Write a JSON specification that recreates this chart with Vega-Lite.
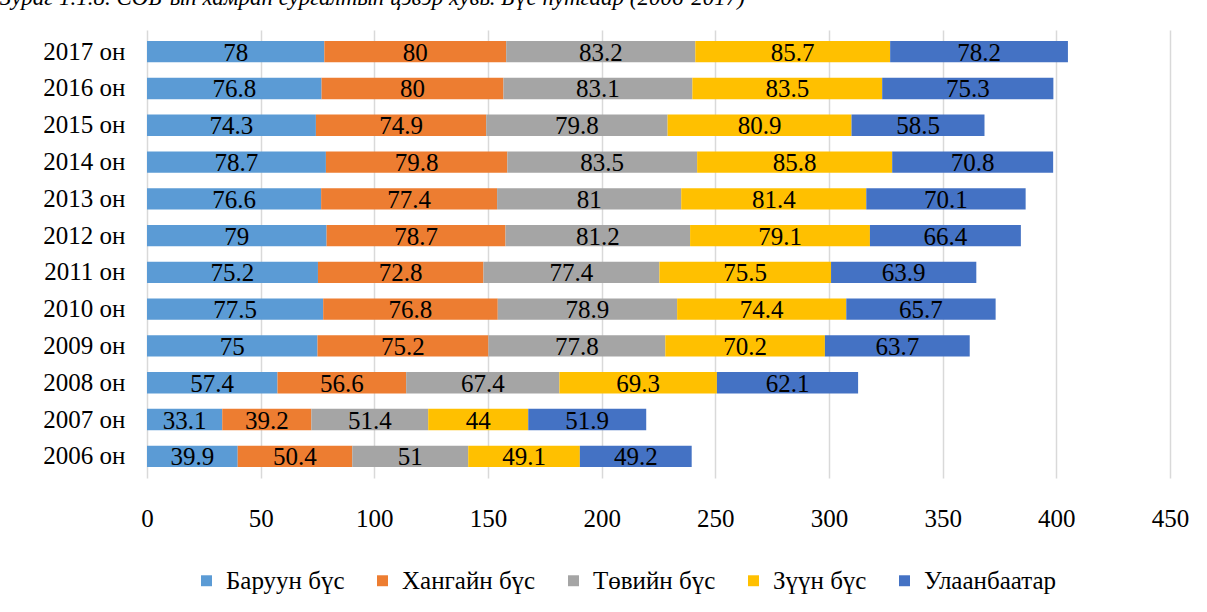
{
  "$schema": "https://vega.github.io/schema/vega-lite/v6.json",
  "width": 1023,
  "height": 448,
  "autosize": {"type": "none"},
  "padding": {"left": 147, "top": 30, "right": 37, "bottom": 134},
  "background": "white",
  "title": {
    "text": "Зураг 1.1.8. СӨБ-ын хамран сургалтын цэвэр хувь. Бүс нутгаар (2006-2017)",
    "anchor": "start",
    "frame": "group",
    "dx": -147,
    "offset": 2,
    "baseline": "alphabetic",
    "font": "Liberation Serif",
    "fontSize": 23,
    "fontStyle": "italic",
    "fontWeight": "normal",
    "color": "#000000"
  },
  "data": {
    "values": [
      {"year": "2017 он", "region": "Баруун бүс", "value": 78},
      {"year": "2017 он", "region": "Хангайн бүс", "value": 80},
      {"year": "2017 он", "region": "Төвийн бүс", "value": 83.2},
      {"year": "2017 он", "region": "Зүүн бүс", "value": 85.7},
      {"year": "2017 он", "region": "Улаанбаатар", "value": 78.2},
      {"year": "2016 он", "region": "Баруун бүс", "value": 76.8},
      {"year": "2016 он", "region": "Хангайн бүс", "value": 80},
      {"year": "2016 он", "region": "Төвийн бүс", "value": 83.1},
      {"year": "2016 он", "region": "Зүүн бүс", "value": 83.5},
      {"year": "2016 он", "region": "Улаанбаатар", "value": 75.3},
      {"year": "2015 он", "region": "Баруун бүс", "value": 74.3},
      {"year": "2015 он", "region": "Хангайн бүс", "value": 74.9},
      {"year": "2015 он", "region": "Төвийн бүс", "value": 79.8},
      {"year": "2015 он", "region": "Зүүн бүс", "value": 80.9},
      {"year": "2015 он", "region": "Улаанбаатар", "value": 58.5},
      {"year": "2014 он", "region": "Баруун бүс", "value": 78.7},
      {"year": "2014 он", "region": "Хангайн бүс", "value": 79.8},
      {"year": "2014 он", "region": "Төвийн бүс", "value": 83.5},
      {"year": "2014 он", "region": "Зүүн бүс", "value": 85.8},
      {"year": "2014 он", "region": "Улаанбаатар", "value": 70.8},
      {"year": "2013 он", "region": "Баруун бүс", "value": 76.6},
      {"year": "2013 он", "region": "Хангайн бүс", "value": 77.4},
      {"year": "2013 он", "region": "Төвийн бүс", "value": 81},
      {"year": "2013 он", "region": "Зүүн бүс", "value": 81.4},
      {"year": "2013 он", "region": "Улаанбаатар", "value": 70.1},
      {"year": "2012 он", "region": "Баруун бүс", "value": 79},
      {"year": "2012 он", "region": "Хангайн бүс", "value": 78.7},
      {"year": "2012 он", "region": "Төвийн бүс", "value": 81.2},
      {"year": "2012 он", "region": "Зүүн бүс", "value": 79.1},
      {"year": "2012 он", "region": "Улаанбаатар", "value": 66.4},
      {"year": "2011 он", "region": "Баруун бүс", "value": 75.2},
      {"year": "2011 он", "region": "Хангайн бүс", "value": 72.8},
      {"year": "2011 он", "region": "Төвийн бүс", "value": 77.4},
      {"year": "2011 он", "region": "Зүүн бүс", "value": 75.5},
      {"year": "2011 он", "region": "Улаанбаатар", "value": 63.9},
      {"year": "2010 он", "region": "Баруун бүс", "value": 77.5},
      {"year": "2010 он", "region": "Хангайн бүс", "value": 76.8},
      {"year": "2010 он", "region": "Төвийн бүс", "value": 78.9},
      {"year": "2010 он", "region": "Зүүн бүс", "value": 74.4},
      {"year": "2010 он", "region": "Улаанбаатар", "value": 65.7},
      {"year": "2009 он", "region": "Баруун бүс", "value": 75},
      {"year": "2009 он", "region": "Хангайн бүс", "value": 75.2},
      {"year": "2009 он", "region": "Төвийн бүс", "value": 77.8},
      {"year": "2009 он", "region": "Зүүн бүс", "value": 70.2},
      {"year": "2009 он", "region": "Улаанбаатар", "value": 63.7},
      {"year": "2008 он", "region": "Баруун бүс", "value": 57.4},
      {"year": "2008 он", "region": "Хангайн бүс", "value": 56.6},
      {"year": "2008 он", "region": "Төвийн бүс", "value": 67.4},
      {"year": "2008 он", "region": "Зүүн бүс", "value": 69.3},
      {"year": "2008 он", "region": "Улаанбаатар", "value": 62.1},
      {"year": "2007 он", "region": "Баруун бүс", "value": 33.1},
      {"year": "2007 он", "region": "Хангайн бүс", "value": 39.2},
      {"year": "2007 он", "region": "Төвийн бүс", "value": 51.4},
      {"year": "2007 он", "region": "Зүүн бүс", "value": 44},
      {"year": "2007 он", "region": "Улаанбаатар", "value": 51.9},
      {"year": "2006 он", "region": "Баруун бүс", "value": 39.9},
      {"year": "2006 он", "region": "Хангайн бүс", "value": 50.4},
      {"year": "2006 он", "region": "Төвийн бүс", "value": 51},
      {"year": "2006 он", "region": "Зүүн бүс", "value": 49.1},
      {"year": "2006 он", "region": "Улаанбаатар", "value": 49.2}
    ]
  },
  "transform": [
    {"calculate": "indexof(['Баруун бүс','Хангайн бүс','Төвийн бүс','Зүүн бүс','Улаанбаатар'], datum.region)", "as": "ord"},
    {"stack": "value", "groupby": ["year"], "sort": [{"field": "ord", "order": "ascending"}], "as": ["v0", "v1"]},
    {"calculate": "(datum.v0 + datum.v1) / 2", "as": "mid"}
  ],
  "encoding": {
    "y": {
      "field": "year",
      "type": "nominal",
      "sort": "descending",
      "title": null,
      "scale": {"paddingInner": 0.42, "paddingOuter": 0.3},
      "axis": {
        "domain": false,
        "ticks": false,
        "labelPadding": 22,
        "labelFont": "Liberation Serif",
        "labelFontSize": 25,
        "labelColor": "#000000"
      }
    }
  },
  "layer": [
    {
      "mark": {"type": "bar"},
      "encoding": {
        "x": {
          "field": "v0",
          "type": "quantitative",
          "title": null,
          "scale": {"domain": [0, 450], "nice": false},
          "axis": {
            "values": [0, 50, 100, 150, 200, 250, 300, 350, 400, 450],
            "domain": false,
            "ticks": false,
            "grid": true,
            "gridColor": "#d9d9d9",
            "gridWidth": 1.5,
            "labelPadding": 28,
            "labelFont": "Liberation Serif",
            "labelFontSize": 25,
            "labelColor": "#000000",
            "labelFlush": false
          }
        },
        "x2": {"field": "v1"},
        "color": {
          "field": "region",
          "type": "nominal",
          "sort": ["Баруун бүс", "Хангайн бүс", "Төвийн бүс", "Зүүн бүс", "Улаанбаатар"],
          "scale": {
            "domain": ["Баруун бүс", "Хангайн бүс", "Төвийн бүс", "Зүүн бүс", "Улаанбаатар"],
            "range": ["#5B9BD5", "#ED7D31", "#A5A5A5", "#FFC000", "#4472C4"]
          },
          "legend": {
            "title": null,
            "orient": "none",
            "direction": "horizontal",
            "legendX": 47,
            "legendY": 538,
            "symbolType": "square",
            "symbolSize": 120,
            "symbolStrokeWidth": 0,
            "labelFont": "Liberation Serif",
            "labelFontSize": 25,
            "labelColor": "#000000",
            "labelOffset": 7,
            "columnPadding": 25,
            "labelLimit": 300
          }
        }
      }
    },
    {
      "mark": {
        "type": "text",
        "font": "Liberation Serif",
        "fontSize": 25,
        "color": "#000000",
        "baseline": "middle",
        "align": "center",
        "dy": 1
      },
      "encoding": {
        "x": {"field": "mid", "type": "quantitative"},
        "text": {"field": "value", "type": "quantitative"}
      }
    }
  ],
  "config": {
    "view": {"stroke": null}
  }
}
